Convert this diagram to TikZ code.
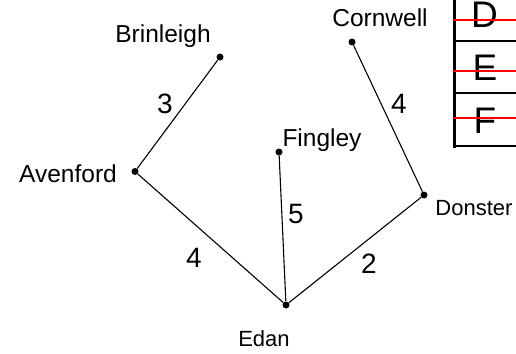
\documentclass[tikz,border=0pt]{standalone}
\usepackage{fontspec}
\setmainfont{Liberation Sans}
\begin{document}
\begin{tikzpicture}[x=1pt,y=-1pt,
  dot/.style={circle,fill=black,inner sep=0pt,minimum size=7pt},
  city/.style={anchor=base,inner sep=0pt,font=\fontsize{24.5}{28}\selectfont},
  smallcity/.style={anchor=base,inner sep=0pt,font=\fontsize{22}{26}\selectfont},
  weight/.style={anchor=base,inner sep=0pt,font=\fontsize{28}{32}\selectfont},
  edge/.style={line width=1.1pt},
  letter/.style={anchor=base,inner sep=0pt,font=\fontsize{37}{40}\selectfont},
  strike/.style={red,line width=2pt}]
\useasboundingbox (0,0) rectangle (516,353);
% dots
\node[dot] (B) at (220,57) {};
\node[dot] (A) at (135,171.5) {};
\node[dot] (F) at (279,152) {};
\node[dot] (C) at (352,42) {};
\node[dot] (D) at (424,195) {};
\node[dot] (E) at (286,305) {};
% labels
\node[city] (lB) at (163,43) {Brinleigh};
\node[city] (lA) at (68,182) {Avenford};
\node[city] (lC) at (380,27) {Cornwell};
\node[city] (lF) at (322,146) {Fingley};
\node[smallcity] (lD) at (474,215) {Donster};
\node[smallcity] (lE) at (264,346) {Edan};
% edges
\draw[edge] (A) -- (B);
\draw[edge] (A) -- (E);
\draw[edge] (F) -- (E);
\draw[edge] (E) -- (D);
\draw[edge] (C) -- (D);
% weights
\node[weight] (w1) at (165,113) {3};
\node[weight] (w2) at (399,113) {4};
\node[weight] (w3) at (296,223) {5};
\node[weight] (w4) at (194,267) {4};
\node[weight] (w5) at (369,273) {2};
% table
\coordinate (t1) at (454.5,-5);
\coordinate (t2) at (454.5,147.5);
\draw[line width=3pt] (t1) -- (t2);
\coordinate (h1a) at (454,41); \coordinate (h1b) at (520,41);
\coordinate (h2a) at (454,93); \coordinate (h2b) at (520,93);
\coordinate (h3a) at (453,146); \coordinate (h3b) at (520,146);
\draw[line width=1.5pt] (h1a) -- (h1b);
\draw[line width=1.5pt] (h2a) -- (h2b);
\draw[line width=2.2pt] (h3a) -- (h3b);
\node[letter] (LD) at (484.5,28) {D};
\node[letter] (LE) at (485,80) {E};
\node[letter] (LF) at (485,133) {F};
\coordinate (r1a) at (453,20); \coordinate (r1b) at (520,20);
\coordinate (r2a) at (453,71); \coordinate (r2b) at (520,71);
\coordinate (r3a) at (453,118); \coordinate (r3b) at (520,118);
\draw[strike] (r1a) -- (r1b);
\draw[strike] (r2a) -- (r2b);
\draw[strike] (r3a) -- (r3b);
\end{tikzpicture}
\end{document}
